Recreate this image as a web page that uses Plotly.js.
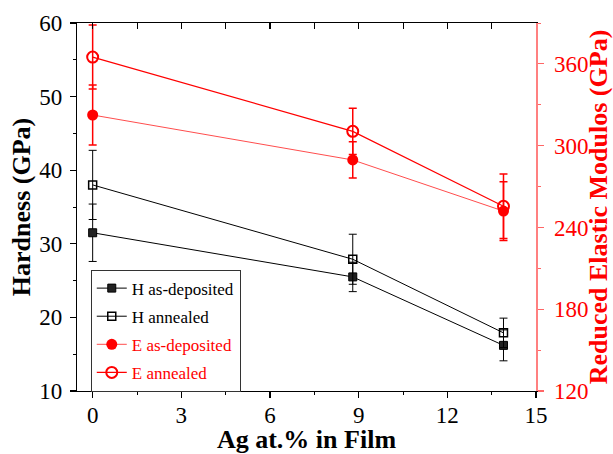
<!DOCTYPE html>
<html>
<head>
<meta charset="utf-8">
<script src="https://cdn.plot.ly/plotly-3.0.1.min.js"></script>
<style>html,body{margin:0;padding:0;background:#fff;}#chart{width:613px;height:454px;}</style>
</head>
<body>
<div id="chart"></div>
<script>
// Data
const agContent = [0, 8.8, 13.9];
const hAsDeposited = [31.5, 25.5, 16.2];
const hAsDepositedErr = [3.9, 2.0, 2.1];
const hAnnealed = [38.0, 27.9, 17.9];
const hAnnealedErr = [4.7, 3.4, 2.0];
const eAsDeposited = [322.5, 289.5, 252];
const eAsDepositedErr = [22, 13.3, 21.5];
const eAnnealed = [365, 310.5, 255.5];
const eAnnealedErr = [23.5, 17, 23.7];
const xTicks = [0, 3, 6, 9, 12, 15];
const hTicks = [10, 20, 30, 40, 50, 60];
const eTicks = [120, 180, 240, 300, 360];

const serif = "'Liberation Serif', 'Times New Roman', serif";
const red = '#ff0000';

const traces = [
  {
    x: agContent, y: hAsDeposited, name: 'H as-deposited', type: 'scatter', mode: 'lines+markers',
    line: {color: '#000', width: 1}, marker: {symbol: 'square', size: 8, color: '#222', line: {color: '#000', width: 1}},
    error_y: {type: 'data', array: hAsDepositedErr, visible: true, color: '#000', thickness: 1, width: 4},
    legendgroup: 'a', xaxis: 'x', yaxis: 'y'
  },
  {
    x: agContent, y: hAnnealed, name: 'H annealed', type: 'scatter', mode: 'lines+markers',
    line: {color: '#000', width: 1}, marker: {symbol: 'square-open', size: 8, color: '#000', line: {width: 1.5}},
    error_y: {type: 'data', array: hAnnealedErr, visible: true, color: '#000', thickness: 1, width: 4},
    legendgroup: 'b', xaxis: 'x', yaxis: 'y'
  },
  {
    x: agContent, y: eAsDeposited, name: '<span style="color:#ff0000">E as-deposited</span>', type: 'scatter', mode: 'lines+markers',
    line: {color: '#ff4d4d', width: 1}, marker: {symbol: 'circle', size: 11, color: red},
    error_y: {type: 'data', array: eAsDepositedErr, visible: true, color: red, thickness: 1.5, width: 4},
    legendgroup: 'c', xaxis: 'x', yaxis: 'y2'
  },
  {
    x: agContent, y: eAnnealed, name: '<span style="color:#ff0000">E annealed</span>', type: 'scatter', mode: 'lines+markers',
    line: {color: red, width: 1.2}, marker: {symbol: 'circle-open', size: 11, color: red, line: {width: 2}},
    error_y: {type: 'data', array: eAnnealedErr, visible: true, color: red, thickness: 1.5, width: 4},
    legendgroup: 'd', xaxis: 'x', yaxis: 'y2'
  },
  {
    x: [], y: [], xaxis: 'x2', yaxis: 'y', type: 'scatter', showlegend: false, hoverinfo: 'skip'
  }
];

const layout = {
  width: 613, height: 454,
  margin: {l: 77, r: 77, t: 23, b: 63},
  paper_bgcolor: '#fff', plot_bgcolor: '#fff',
  font: {family: serif, color: '#000', size: 23},
  showlegend: true,
  legend: {
    x: 0.03, y: 0.33, xanchor: 'left', yanchor: 'top',
    bgcolor: '#fff', bordercolor: '#333', borderwidth: 1,
    font: {family: serif, size: 17, color: '#000'},
    tracegroupgap: 3, itemwidth: 30
  },
  xaxis: {
    range: [-0.53, 15], tickvals: xTicks, ticktext: xTicks.map(String),
    showgrid: false, zeroline: false, showline: true, linecolor: '#000', linewidth: 1.2,
    ticks: 'outside', ticklen: 6, tickwidth: 1.2, tickcolor: '#000',
    minor: {dtick: 1.5, tick0: 0, ticks: 'outside', ticklen: 3, tickwidth: 1, tickcolor: '#000', showgrid: false},
    tickfont: {family: serif, size: 23, color: '#000'},
    ticklabelstandoff: -3,
    title: {text: '<b>Ag at.% in Film</b>', font: {family: serif, size: 26, color: '#000'}, standoff: 14}
  },
  xaxis2: {
    overlaying: 'x', side: 'top', anchor: 'y', range: [-0.53, 15], dtick: 3, tick0: 0,
    showgrid: false, zeroline: false, showline: true, linecolor: '#000', linewidth: 1.2,
    ticks: 'inside', ticklen: 6, tickwidth: 1.2, tickcolor: '#000', showticklabels: false,
    minor: {dtick: 1.5, tick0: 0, ticks: 'inside', ticklen: 6, tickwidth: 1, tickcolor: '#000', showgrid: false}
  },
  yaxis: {
    range: [10, 60], tickvals: hTicks, ticktext: hTicks.map(String),
    showgrid: false, zeroline: false, showline: true, linecolor: '#000', linewidth: 1.2,
    ticks: 'outside', ticklen: 6, tickwidth: 1.2, tickcolor: '#000',
    minor: {dtick: 5, tick0: 10, ticks: 'outside', ticklen: 3, tickwidth: 1, tickcolor: '#000', showgrid: false},
    tickfont: {family: serif, size: 23, color: '#000'},
    ticklabelstandoff: 3,
    title: {text: '<b>Hardness (GPa)</b>', font: {family: serif, size: 26, color: '#000'}, standoff: 1}
  },
  yaxis2: {
    overlaying: 'y', side: 'right', anchor: 'x',
    range: [120, 390], tickvals: eTicks, ticktext: eTicks.map(String),
    showgrid: false, zeroline: false, showline: true, linecolor: '#ff8080', linewidth: 1.5,
    ticks: 'outside', ticklen: 6, tickwidth: 1.2, tickcolor: '#ff6666',
    minor: {dtick: 30, tick0: 120, ticks: 'outside', ticklen: 3, tickwidth: 1, tickcolor: '#ff6666', showgrid: false},
    tickfont: {family: serif, size: 23, color: red},
    ticklabelstandoff: 6,
    title: {text: '<b>Reduced Elastic Modulos (GPa)</b>', font: {family: serif, size: 26, color: red}, standoff: 2}
  }
};

Plotly.newPlot('chart', traces, layout, {displayModeBar: false, staticPlot: true});
</script>
</body>
</html>
